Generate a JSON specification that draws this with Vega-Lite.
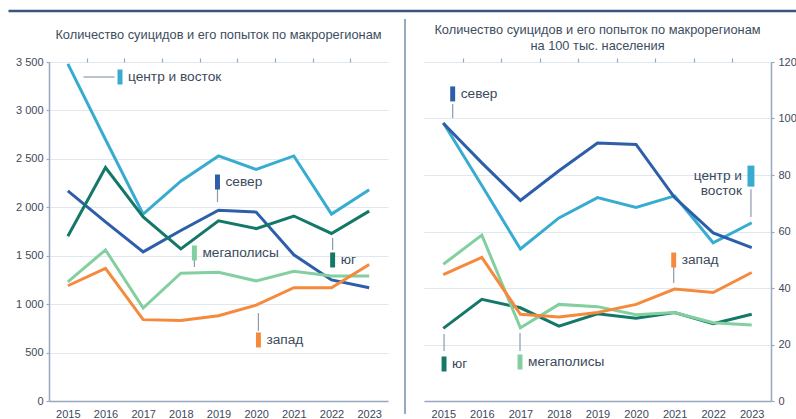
{
  "$schema": "https://vega.github.io/schema/vega-lite/v6.json",
  "background": "white",
  "padding": {"left": 7, "top": 9, "right": 0, "bottom": 0},
  "autosize": {"type": "pad"},
  "bounds": "flush",
  "spacing": 36,
  "config": {
    "view": {"stroke": null},
    "font": "Liberation Sans",
    "axis": {
      "labelFont": "Liberation Sans",
      "labelFontSize": 11,
      "labelColor": "#3b4a5c",
      "domainColor": "#97a9bf",
      "domainWidth": 1.5,
      "tickColor": "#97a9bf",
      "tickWidth": 1.2,
      "gridColor": "#dfe7ef",
      "gridWidth": 1
    },
    "title": {"font": "Liberation Sans", "fontSize": 12.8, "fontWeight": "normal", "color": "#3d4d60", "anchor": "middle"},
    "text": {"font": "Liberation Sans"}
  },
  "datasets": {
    "left": [
      {"region": "центр и восток", "year": 2015, "value": 3480},
      {"region": "центр и восток", "year": 2016, "value": 2700},
      {"region": "центр и восток", "year": 2017, "value": 1930},
      {"region": "центр и восток", "year": 2018, "value": 2270},
      {"region": "центр и восток", "year": 2019, "value": 2530},
      {"region": "центр и восток", "year": 2020, "value": 2390},
      {"region": "центр и восток", "year": 2021, "value": 2530},
      {"region": "центр и восток", "year": 2022, "value": 1930},
      {"region": "центр и восток", "year": 2023, "value": 2180},
      {"region": "север", "year": 2015, "value": 2170},
      {"region": "север", "year": 2016, "value": 1850},
      {"region": "север", "year": 2017, "value": 1540},
      {"region": "север", "year": 2018, "value": 1760},
      {"region": "север", "year": 2019, "value": 1970},
      {"region": "север", "year": 2020, "value": 1950},
      {"region": "север", "year": 2021, "value": 1510},
      {"region": "север", "year": 2022, "value": 1250},
      {"region": "север", "year": 2023, "value": 1170},
      {"region": "юг", "year": 2015, "value": 1700},
      {"region": "юг", "year": 2016, "value": 2410},
      {"region": "юг", "year": 2017, "value": 1900},
      {"region": "юг", "year": 2018, "value": 1570},
      {"region": "юг", "year": 2019, "value": 1860},
      {"region": "юг", "year": 2020, "value": 1780},
      {"region": "юг", "year": 2021, "value": 1910},
      {"region": "юг", "year": 2022, "value": 1730},
      {"region": "юг", "year": 2023, "value": 1960},
      {"region": "мегаполисы", "year": 2015, "value": 1230},
      {"region": "мегаполисы", "year": 2016, "value": 1560},
      {"region": "мегаполисы", "year": 2017, "value": 960},
      {"region": "мегаполисы", "year": 2018, "value": 1320},
      {"region": "мегаполисы", "year": 2019, "value": 1330},
      {"region": "мегаполисы", "year": 2020, "value": 1240},
      {"region": "мегаполисы", "year": 2021, "value": 1340},
      {"region": "мегаполисы", "year": 2022, "value": 1290},
      {"region": "мегаполисы", "year": 2023, "value": 1290},
      {"region": "запад", "year": 2015, "value": 1190},
      {"region": "запад", "year": 2016, "value": 1370},
      {"region": "запад", "year": 2017, "value": 840},
      {"region": "запад", "year": 2018, "value": 830},
      {"region": "запад", "year": 2019, "value": 880},
      {"region": "запад", "year": 2020, "value": 990},
      {"region": "запад", "year": 2021, "value": 1170},
      {"region": "запад", "year": 2022, "value": 1170},
      {"region": "запад", "year": 2023, "value": 1410}
    ],
    "right": [
      {"region": "центр и восток", "year": 2015, "value": 98.5},
      {"region": "центр и восток", "year": 2016, "value": 76.3},
      {"region": "центр и восток", "year": 2017, "value": 53.8},
      {"region": "центр и восток", "year": 2018, "value": 64.8},
      {"region": "центр и восток", "year": 2019, "value": 72},
      {"region": "центр и восток", "year": 2020, "value": 68.5},
      {"region": "центр и восток", "year": 2021, "value": 72.6},
      {"region": "центр и восток", "year": 2022, "value": 56},
      {"region": "центр и восток", "year": 2023, "value": 63.1},
      {"region": "север", "year": 2015, "value": 98.3},
      {"region": "север", "year": 2016, "value": 84.3},
      {"region": "север", "year": 2017, "value": 71},
      {"region": "север", "year": 2018, "value": 81.5},
      {"region": "север", "year": 2019, "value": 91.3},
      {"region": "север", "year": 2020, "value": 90.8},
      {"region": "север", "year": 2021, "value": 72},
      {"region": "север", "year": 2022, "value": 59.5},
      {"region": "север", "year": 2023, "value": 54.3},
      {"region": "юг", "year": 2015, "value": 25.7},
      {"region": "юг", "year": 2016, "value": 36},
      {"region": "юг", "year": 2017, "value": 33},
      {"region": "юг", "year": 2018, "value": 26.5},
      {"region": "юг", "year": 2019, "value": 30.9},
      {"region": "юг", "year": 2020, "value": 29.3},
      {"region": "юг", "year": 2021, "value": 31.3},
      {"region": "юг", "year": 2022, "value": 27.4},
      {"region": "юг", "year": 2023, "value": 30.7},
      {"region": "мегаполисы", "year": 2015, "value": 48.4},
      {"region": "мегаполисы", "year": 2016, "value": 58.7},
      {"region": "мегаполисы", "year": 2017, "value": 25.9},
      {"region": "мегаполисы", "year": 2018, "value": 34.2},
      {"region": "мегаполисы", "year": 2019, "value": 33.4},
      {"region": "мегаполисы", "year": 2020, "value": 30.5},
      {"region": "мегаполисы", "year": 2021, "value": 31.3},
      {"region": "мегаполисы", "year": 2022, "value": 27.7},
      {"region": "мегаполисы", "year": 2023, "value": 26.9},
      {"region": "запад", "year": 2015, "value": 44.7},
      {"region": "запад", "year": 2016, "value": 50.8},
      {"region": "запад", "year": 2017, "value": 30.7},
      {"region": "запад", "year": 2018, "value": 29.7},
      {"region": "запад", "year": 2019, "value": 31.3},
      {"region": "запад", "year": 2020, "value": 34.2},
      {"region": "запад", "year": 2021, "value": 39.6},
      {"region": "запад", "year": 2022, "value": 38.4},
      {"region": "запад", "year": 2023, "value": 45.5}
    ],
    "leftLabels": [
      {"region": "центр и восток", "year": 2016.385, "value": 3345, "label": "центр и восток"},
      {"region": "север", "year": 2018.973, "value": 2261, "label": "север"},
      {"region": "мегаполисы", "year": 2018.36, "value": 1528, "label": "мегаполисы"},
      {"region": "юг", "year": 2022.03, "value": 1456, "label": "юг"},
      {"region": "запад", "year": 2020.06, "value": 630, "label": "запад"}
    ],
    "leftLeaders": [
      {"region": "центр и восток", "x1": 2015.416, "x2": 2016.239, "y1": 3345, "y2": 3345},
      {"region": "север", "x1": 2018.973, "x2": 2018.973, "y1": 2189, "y2": 2054},
      {"region": "мегаполисы", "x1": 2018.36, "x2": 2018.36, "y1": 1466, "y2": 1383},
      {"region": "юг", "x1": 2022.03, "x2": 2022.03, "y1": 1683, "y2": 1559},
      {"region": "запад", "x1": 2020.06, "x2": 2020.06, "y1": 908, "y2": 723}
    ],
    "rightLabels": [
      {"region": "север", "year": 2015.244, "value": 108.7, "label": "север"},
      {"region": "запад", "year": 2020.976, "value": 49.9, "label": "запад"},
      {"region": "юг", "year": 2015.02, "value": 13.1, "label": "юг"},
      {"region": "мегаполисы", "year": 2016.99, "value": 13.8, "label": "мегаполисы"}
    ],
    "rightLabelsEnd": [
      {"region": "центр и восток", "year": 2022.98, "value": 79.6, "label": "центр и\nвосток"}
    ],
    "rightLeaders": [
      {"region": "север", "x1": 2015.244, "x2": 2015.244, "y1": 105.1, "y2": 100.2},
      {"region": "центр и восток", "x1": 2022.98, "x2": 2022.98, "y1": 75.0, "y2": 65.1},
      {"region": "запад", "x1": 2020.976, "x2": 2020.976, "y1": 47.4, "y2": 41.8},
      {"region": "юг", "x1": 2015.02, "x2": 2015.02, "y1": 23.7, "y2": 17.7},
      {"region": "мегаполисы", "x1": 2016.99, "x2": 2016.99, "y1": 24.1, "y2": 17.7}
    ]
  },
  "hconcat": [
    {
      "width": 339,
      "height": 339,
      "title": {"text": "Количество суицидов и его попыток по макрорегионам", "offset": -32},
      "resolve": {"axis": {"x": "independent"}},
      "layer": [
        {
          "data": {"name": "left"},
          "mark": {"type": "line", "strokeWidth": 3},
          "encoding": {
            "x": {
              "field": "year", "type": "quantitative",
              "scale": {"domain": [2014.5, 2023.5], "nice": false, "zero": false},
              "axis": {
                "title": null, "grid": false, "ticks": false,
                "values": [2015, 2016, 2017, 2018, 2019, 2020, 2021, 2022, 2023],
                "format": "d",
                "labelOverlap": false, "labelFlush": false,
                "labelPadding": 7
              }
            },
            "y": {
              "field": "value", "type": "quantitative",
              "scale": {"domain": [0, 3500], "nice": false},
              "axis": {
                "title": null, "grid": true,
                "values": [0, 500, 1000, 1500, 2000, 2500, 3000, 3500],
                "labelExpr": "replace(format(datum.value, ','), ',', ' ')",
                "tickSize": 3, "labelPadding": 3
              }
            },
            "color": {
              "field": "region", "type": "nominal", "legend": null,
              "scale": {"domain": ["центр и восток", "север", "юг", "мегаполисы", "запад"], "range": ["#38acd0", "#2c5ea9", "#137868", "#84cfa0", "#f58a3d"]}
            }
          }
        },
        {
          "data": {"name": "leftLeaders"},
          "mark": {"type": "rule", "color": "#8d9aab", "strokeWidth": 1.2},
          "encoding": {
            "x": {
              "field": "x1", "type": "quantitative",
              "axis": {
                "title": null, "grid": false, "labels": false, "domain": false,
                "values": [2015.5, 2016.5, 2017.5, 2018.5, 2019.5, 2020.5, 2021.5, 2022.5],
                "tickSize": 4
              }
            },
            "x2": {"field": "x2"},
            "y": {"field": "y1", "type": "quantitative"},
            "y2": {"field": "y2"}
          }
        },
        {
          "data": {"name": "leftLabels"},
          "mark": {"type": "point", "filled": true, "opacity": 1, "size": 225, "shape": "M-0.33,-1L0.33,-1L0.33,1L-0.33,1Z"},
          "encoding": {
            "x": {"field": "year", "type": "quantitative", "axis": null},
            "y": {"field": "value", "type": "quantitative"},
            "color": {"field": "region", "type": "nominal", "legend": null}
          }
        },
        {
          "data": {"name": "leftLabels"},
          "mark": {"type": "text", "align": "left", "baseline": "middle", "dx": 8, "fontSize": 13.7, "color": "#3b4a5c"},
          "encoding": {
            "x": {"field": "year", "type": "quantitative", "axis": null},
            "y": {"field": "value", "type": "quantitative"},
            "text": {"field": "label"}
          }
        },
        {
          "data": {"values": [{}]},
          "mark": {"type": "rule", "color": "#36597a", "strokeWidth": 2.5},
          "encoding": {
            "x": {"datum": 2013.425, "axis": null},
            "x2": {"datum": 2034.37},
            "y": {"datum": 4026.5}
          }
        }
      ]
    },
    {
      "width": 347,
      "height": 339,
      "title": {"text": ["Количество суицидов и его попыток по макрорегионам", "на 100 тыс. населения"], "offset": -35, "lineHeight": 16},
      "resolve": {"axis": {"x": "independent"}},
      "layer": [
        {
          "data": {"name": "right"},
          "mark": {"type": "line", "strokeWidth": 3},
          "encoding": {
            "x": {
              "field": "year", "type": "quantitative",
              "scale": {"domain": [2014.5, 2023.5], "nice": false, "zero": false},
              "axis": {
                "title": null, "grid": false, "ticks": false,
                "values": [2015, 2016, 2017, 2018, 2019, 2020, 2021, 2022, 2023],
                "format": "d",
                "labelOverlap": false, "labelFlush": false,
                "labelPadding": 7
              }
            },
            "y": {
              "field": "value", "type": "quantitative",
              "scale": {"domain": [0, 120], "nice": false},
              "axis": {
                "title": null, "grid": true, "orient": "right",
                "values": [0, 20, 40, 60, 80, 100, 120],
                "tickSize": 3, "labelPadding": 4
              }
            },
            "color": {
              "field": "region", "type": "nominal", "legend": null,
              "scale": {"domain": ["центр и восток", "север", "юг", "мегаполисы", "запад"], "range": ["#38acd0", "#2c5ea9", "#137868", "#84cfa0", "#f58a3d"]}
            }
          }
        },
        {
          "data": {"name": "rightLeaders"},
          "mark": {"type": "rule", "color": "#8d9aab", "strokeWidth": 1.2},
          "encoding": {
            "x": {
              "field": "x1", "type": "quantitative",
              "axis": {
                "title": null, "grid": false, "labels": false, "domain": false,
                "values": [2015.5, 2016.5, 2017.5, 2018.5, 2019.5, 2020.5, 2021.5, 2022.5],
                "tickSize": 4
              }
            },
            "x2": {"field": "x2"},
            "y": {"field": "y1", "type": "quantitative"},
            "y2": {"field": "y2"}
          }
        },
        {
          "data": {"name": "rightLabels"},
          "mark": {"type": "point", "filled": true, "opacity": 1, "size": 225, "shape": "M-0.33,-1L0.33,-1L0.33,1L-0.33,1Z"},
          "encoding": {
            "x": {"field": "year", "type": "quantitative", "axis": null},
            "y": {"field": "value", "type": "quantitative"},
            "color": {"field": "region", "type": "nominal", "legend": null}
          }
        },
        {
          "data": {"name": "rightLabels"},
          "mark": {"type": "text", "align": "left", "baseline": "middle", "dx": 8, "fontSize": 13.7, "color": "#3b4a5c"},
          "encoding": {
            "x": {"field": "year", "type": "quantitative", "axis": null},
            "y": {"field": "value", "type": "quantitative"},
            "text": {"field": "label"}
          }
        },
        {
          "data": {"name": "rightLabelsEnd"},
          "mark": {"type": "point", "filled": true, "opacity": 1, "size": 441, "shape": "M-0.33,-1L0.33,-1L0.33,1L-0.33,1Z"},
          "encoding": {
            "x": {"field": "year", "type": "quantitative", "axis": null},
            "y": {"field": "value", "type": "quantitative"},
            "color": {"field": "region", "type": "nominal", "legend": null}
          }
        },
        {
          "data": {"name": "rightLabelsEnd"},
          "mark": {"type": "text", "align": "right", "baseline": "middle", "dx": -9, "fontSize": 13.7, "lineHeight": 15, "lineBreak": "\n", "color": "#3b4a5c"},
          "encoding": {
            "x": {"field": "year", "type": "quantitative", "axis": null},
            "y": {"field": "value", "type": "quantitative"},
            "text": {"field": "label"}
          }
        },
        {
          "data": {"values": [{}]},
          "mark": {"type": "rule", "color": "#97a9bf", "strokeWidth": 2},
          "encoding": {
            "x": {"datum": 2014.007, "axis": null},
            "y": {"datum": 135.2},
            "y2": {"datum": -4.6}
          }
        }
      ]
    }
  ]
}
